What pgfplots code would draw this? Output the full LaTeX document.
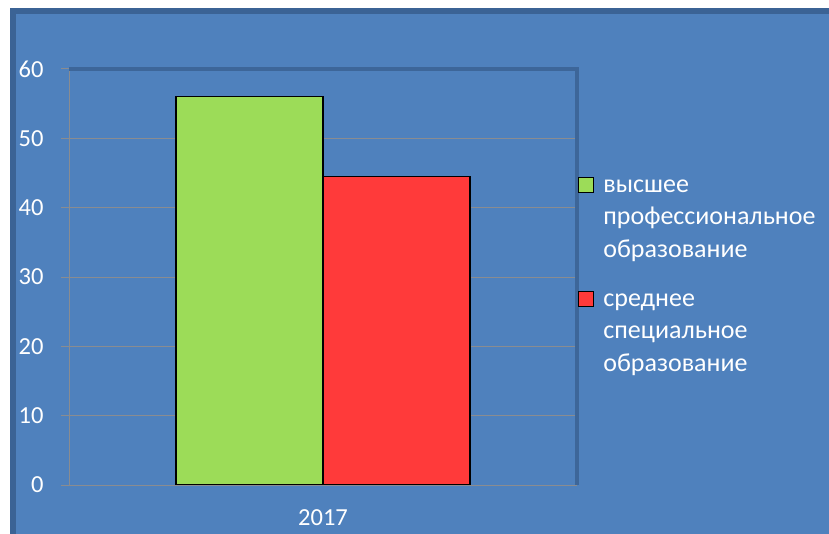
\documentclass[border=0pt]{standalone}
\usepackage{fontspec}
\setmainfont{Carlito}
\usepackage{pgfplots}
\pgfplotsset{compat=1.18}

\definecolor{bgblue}{HTML}{4F81BD}
\definecolor{edgeblue}{HTML}{3B6395}
\definecolor{wallblue}{HTML}{3D6699}
\definecolor{gridgray}{HTML}{8A8C90}
\definecolor{barGreen}{HTML}{9CDC58}
\definecolor{barRed}{HTML}{FF3A3A}

\newcommand{\chartfont}{\fontsize{24.5}{31}\selectfont}
\newcommand{\legendfont}{\fontsize{26}{32.5}\selectfont}

\begin{document}
\begin{tikzpicture}
\useasboundingbox (0pt,0pt) rectangle (829pt,533pt);
\begin{scope}
  \clip (0pt,0pt) rectangle (829pt,533pt);
  \fill[white] (0pt,0pt) rectangle (829pt,533pt);
  \fill[edgeblue] (10pt,-10pt) rectangle (840pt,525pt);
  \fill[bgblue] (16pt,-10pt) rectangle (840pt,519pt);
\end{scope}

\begin{axis}[
    at={(69pt,48pt)}, anchor=south west,
    scale only axis,
    width=508pt, height=416pt,
    xmin=-1, xmax=1,
    ymin=0, ymax=60,
    ytick={0,10,20,30,40,50,60},
    xtick={0}, xticklabels={2017},
    extra x ticks={-1,1}, extra x tick labels={},
    extra x tick style={grid=none, major tick style={draw=gridgray, line width=1pt}},
    major x tick style={draw=none},
    ybar=0pt, bar width=147pt,
    ymajorgrids,
    grid style={gridgray, line width=1pt},
    axis line style={draw=none},
    tick pos=left,
    tick align=outside,
    major tick length=8pt,
    tick style={gridgray, line width=1pt},
    ticklabel style={white, font=\chartfont},
    yticklabel style={xshift=-14pt},
    xticklabel style={yshift=-13pt},
    /pgf/number format/assume math mode=true,
    clip=false,
    legend cell align=left,
    legend style={
        at={(0.996,0.76)}, anchor=north west,
        draw=none, fill=none, text=white,
        font=\legendfont,
        nodes={inner sep=0pt, text height=21pt, text depth=11.5pt},
    },
    legend image code/.code={
        \draw[#1, draw=black, line width=1pt] (0pt,-5pt) rectangle (15pt,10pt);
        \path (24pt,0pt);
    },
]

\addplot[fill=barGreen, draw=black, line width=1.5pt, bar shift=-73.5pt] coordinates {(0,56)};
\addlegendentry{высшее}
\addlegendimage{empty legend}
\addlegendentry{профессиональное}
\addlegendimage{empty legend}
\addlegendentry[text depth=28pt]{образование}

\addplot[fill=barRed, draw=black, line width=1.5pt, bar shift=73.5pt] coordinates {(0,44.5)};
\addlegendentry{среднее}
\addlegendimage{empty legend}
\addlegendentry{специальное}
\addlegendimage{empty legend}
\addlegendentry{образование}

\draw[gridgray, line width=1pt] (rel axis cs:0,1) -- (rel axis cs:0,0) -- (rel axis cs:1,0);
\draw[wallblue, line width=4pt] (rel axis cs:0,1) -- (rel axis cs:1,1) -- (rel axis cs:1,0);

\end{axis}
\end{tikzpicture}
\end{document}
